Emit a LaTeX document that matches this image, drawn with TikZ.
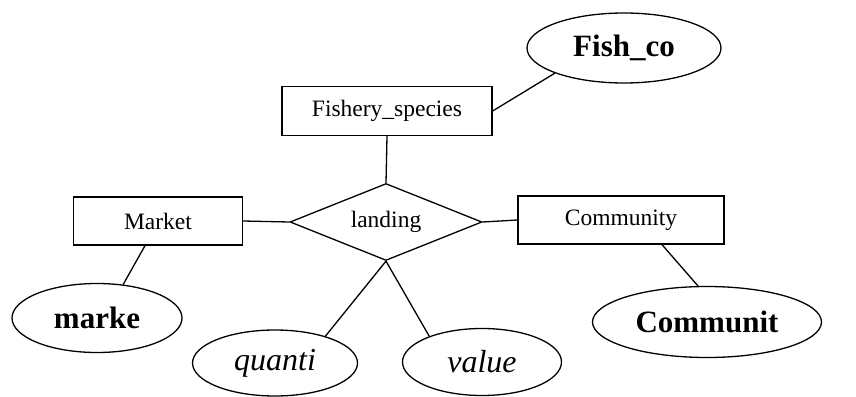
\documentclass[tikz,border=0pt]{standalone}
\usepackage{fontspec}
\setmainfont{Liberation Serif}
\usetikzlibrary{shapes.geometric}
\tikzset{
  ent/.style={draw, line width=1.3pt, rectangle, inner sep=0pt, font=\fontsize{23.5}{27}\selectfont},
  att/.style={draw, line width=1.3pt, ellipse, inner sep=0pt, font=\fontsize{31}{35}\selectfont},
  rel/.style={draw, line width=1.3pt, diamond, aspect=2.5, inner sep=0pt, font=\fontsize{23.5}{27}\selectfont},
  conn/.style={line width=1.3pt},
}
\begin{document}
\begin{tikzpicture}[x=1pt,y=-1pt]
\useasboundingbox (0,0) rectangle (856,396);
\node[ent, minimum width=210pt, minimum height=49pt] (fs) at (387,111) {Fishery\_species};
\node[att, minimum width=194pt, minimum height=70pt] (fish) at (624,48) {\bfseries Fish\_co};
\node[rel, minimum width=192pt, minimum height=77pt] (land) at (386,222) {landing};
\node[ent, minimum width=169pt, minimum height=48pt] (mkt) at (158,221) {Market};
\node[ent, minimum width=206pt, minimum height=48pt] (com) at (621,220) {Community};
\node[att, minimum width=170pt, minimum height=69pt] (marke) at (97,318) {\bfseries marke};
\node[att, minimum width=165pt, minimum height=66pt, font=\fontsize{32}{36}\selectfont\itshape] (quanti) at (275,363) {quanti};
\node[att, minimum width=159pt, minimum height=67pt, font=\fontsize{32}{36}\selectfont\itshape] (value) at (482,362) {value};
\node[att, minimum width=229pt, minimum height=71pt] (communit) at (707,322) {\bfseries Communit};
\draw[conn] (fs.east) -- (fish.200);
\draw[conn] (fs.south) -- (land.north);
\draw[conn] (mkt.east) -- (land.west);
\draw[conn] (land.east) -- (com.west);
\draw[conn] ([xshift=-13pt]mkt.south) -- (marke.52);
\draw[conn] (land.south) -- (quanti.28);
\draw[conn] (land.south) -- (value.154);
\draw[conn] ([xshift=41pt]com.south) -- (communit.104);
\end{tikzpicture}
\end{document}
